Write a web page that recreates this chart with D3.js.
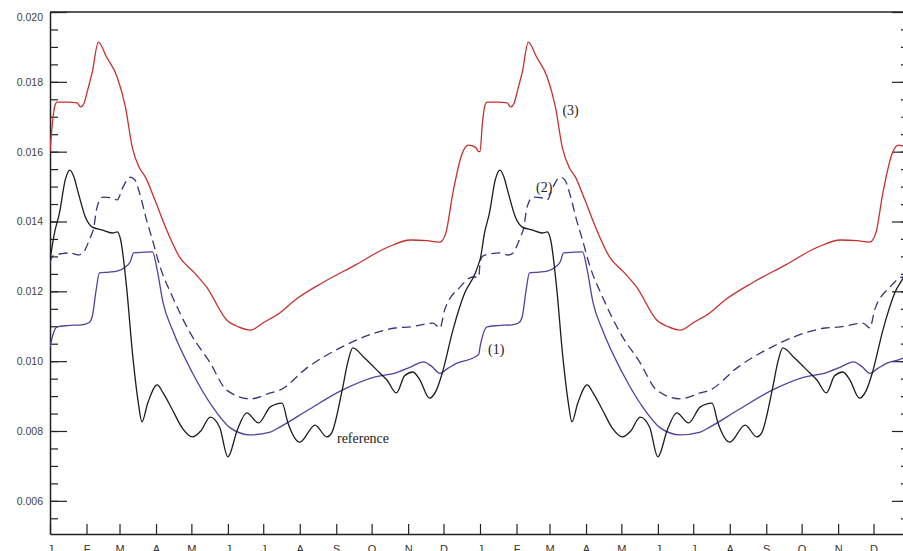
<!DOCTYPE html>
<html>
<head>
<meta charset="utf-8">
<script src="https://cdn.jsdelivr.net/npm/d3@7"></script>
<style>
  body { margin: 0; background: #fff; }
  svg { display: block; }
</style>
</head>
<body>
<div id="chart"></div>
<script>
//Chart data: [day of year, value], one year, drawn twice
var series3 = [[0,0.0160],[2,0.0168],[4,0.0173],[6,0.01742],[15,0.01742],[23,0.01740],[26,0.01728],
  [29,0.01740],[32,0.01777],[36,0.0183],[41,0.01914],[48,0.01871],[57,0.01814],[64,0.01728],[70,0.0161],
  [76,0.01553],[81,0.01527],[89,0.01462],[98,0.01384],[110,0.01298],[122,0.01255],[133,0.01212],
  [150,0.01118],[160,0.01098],[170,0.01089],[182,0.01112],[195,0.01138],[208,0.01175],[231,0.01224],
  [259,0.01275],[287,0.01327],[306,0.01347],[320,0.01345],[331,0.01341],[336,0.01367],[342,0.01482],
  [350,0.01596],[355,0.01619],[361,0.01613],[364,0.0160]];

var series2 = [[0,0.0128],[2,0.0130],[10,0.01308],[17,0.0131],[24,0.01304],[28,0.0131],[34,0.01353],
  [37,0.0138],[40,0.01442],[45,0.0147],[52,0.01468],[57,0.01462],[62,0.01499],[68,0.01527],[72,0.01519],
  [76,0.01482],[82,0.01404],[87,0.01347],[93,0.01275],[104,0.01184],[119,0.01081],[136,0.00995],
  [150,0.00917],[170,0.00892],[187,0.00909],[195,0.00917],[219,0.00983],[248,0.01041],[276,0.01081],
  [293,0.01095],[306,0.01098],[325,0.01109],[331,0.01095],[335,0.01147],[348,0.01212],[359,0.01241],
  [364,0.01241]];

var series1 = [[0,0.0104],[2,0.0107],[6,0.01098],[15,0.01102],[27,0.01104],[33,0.0111],[36,0.0113],
  [39,0.0120],[42,0.01253],[50,0.01255],[57,0.01258],[64,0.0127],[68,0.01284],[71,0.0131],[80,0.01312],
  [87,0.01313],[91,0.01261],[96,0.01167],[104,0.01089],[121,0.00966],[138,0.00869],[153,0.00809],
  [170,0.00789],[187,0.00797],[195,0.00811],[219,0.0086],[248,0.00917],[276,0.00955],[293,0.00966],
  [306,0.00983],[317,0.00998],[324,0.00985],[331,0.00965],[338,0.0098],[346,0.00995],[359,0.01009],
  [364,0.0102]];

var seriesRef = [[0,0.0129],[4,0.0137],[8,0.01424],[13,0.0152],[17,0.01547],[20,0.0153],[24,0.01482],
  [30,0.01413],[36,0.01384],[44,0.01376],[53,0.01367],[57,0.0137],[60,0.01347],[65,0.01212],[70,0.01023],
  [75,0.0088],[78,0.00826],[83,0.0088],[91,0.00932],[96,0.00909],[104,0.0086],[112,0.0081],[121,0.00783],
  [128,0.0080],[136,0.0084],[144,0.00811],[151,0.00726],[159,0.00803],[167,0.00852],[177,0.00823],
  [187,0.00869],[197,0.0088],[202,0.00823],[212,0.00768],[225,0.00817],[235,0.00783],[239,0.00794],
  [248,0.00917],[253,0.0100],[257,0.01038],[267,0.01009],[280,0.00966],[286,0.00946],[294,0.00909],
  [301,0.00958],[308,0.00969],[314,0.00946],[322,0.00894],[328,0.00917],[333,0.00966],[342,0.01089],
  [352,0.01195],[361,0.01252],[364,0.0128]];

var monthLabels = ["J","F","M","A","M","J","J","A","S","O","N","D"];
var monthStarts = [0,31,59,90,120,151,181,212,243,273,304,334];
var yTicks = [0.006,0.008,0.010,0.012,0.014,0.016,0.018,0.020];
var years = [0, 1];

//Annotations placed in data coordinates
var notes = [
  {text: "(3)", day: 435, value: 0.01705},
  {text: "(2)", day: 412.6, value: 0.01484},
  {text: "(1)", day: 371.8, value: 0.01021},
  {text: "reference", day: 243.6, value: 0.00766}
];

//Sizes
var width = 903, height = 551;
var plotLeft = 50, plotTop = 12, plotBottom = 534;
var yearPx = 430;
var plotRight = 909;
var dayMax = (plotRight - plotLeft) * 365 / yearPx;

var x = d3.scaleLinear().domain([0, dayMax]).range([plotLeft, plotRight]);
var y = d3.scaleLinear().domain([0.00505, 0.020]).range([plotBottom, plotTop]);

var svg = d3.select("#chart").append("svg")
  .attr("width", width)
  .attr("height", height);

svg.append("defs").append("clipPath").attr("id", "plot")
  .append("rect")
  .attr("x", plotLeft).attr("y", plotTop)
  .attr("width", plotRight - plotLeft).attr("height", plotBottom - plotTop);

//Y axis minor ticks, left and right
var minor = d3.range(0.0055, 0.02001, 0.0005);
svg.append("g")
  .attr("transform", "translate(" + plotLeft + ",0)")
  .call(d3.axisLeft(y).tickValues(minor).tickSize(-8).tickFormat(""))
  .call(g => g.select(".domain").remove());
svg.append("g")
  .attr("transform", "translate(" + plotRight + ",0)")
  .call(d3.axisRight(y).tickValues(minor).tickSize(-8).tickFormat(""))
  .call(g => g.select(".domain").remove());
svg.append("g")
  .attr("transform", "translate(" + plotRight + ",0)")
  .call(d3.axisRight(y).tickValues(yTicks).tickSize(-17).tickFormat(""))
  .call(g => g.select(".domain").remove());

//Y axis major ticks with labels
var yAxis = svg.append("g")
  .attr("transform", "translate(" + plotLeft + ",0)")
  .call(d3.axisLeft(y).tickValues(yTicks).tickSize(-17).tickSizeOuter(0)
    .tickPadding(7).tickFormat(d3.format(".3f")));
yAxis.selectAll("text")
  .attr("font-family", "'Liberation Sans', Arial, sans-serif")
  .attr("font-size", 10.5)
  .attr("fill", "#444")
  .attr("y", d => d >= 0.020 ? 5 : 0);

//X axis month ticks
var monthTicks = [];
years.forEach(function(k) {
  monthStarts.forEach(function(m, i) {
    monthTicks.push({day: m + 365 * k, label: monthLabels[i]});
  });
});
var xAxis = svg.append("g")
  .attr("transform", "translate(0," + plotBottom + ")")
  .call(d3.axisBottom(x).tickValues(monthTicks.map(d => d.day)).tickSize(-10).tickSizeOuter(0)
    .tickPadding(11).tickFormat((d, i) => monthTicks[i].label));
xAxis.selectAll("text")
  .attr("font-family", "'Liberation Sans', Arial, sans-serif")
  .attr("font-size", 11)
  .attr("fill", "#333");

svg.selectAll(".tick line").attr("stroke", "#222").attr("stroke-width", 1.2);
svg.selectAll(".domain").attr("stroke", "#222").attr("stroke-width", 1.5);

//Top border
svg.append("line")
  .attr("x1", plotLeft).attr("x2", plotRight)
  .attr("y1", plotTop).attr("y2", plotTop)
  .attr("stroke", "#222").attr("stroke-width", 1.3);

//Lines
var line = d3.line()
  .x(d => x(d[0]))
  .y(d => y(d[1]))
  .curve(d3.curveMonotoneX);

function twoYears(data) {
  return years.flatMap(k => data.map(p => [p[0] + 365 * k, p[1]]));
}

var lines = [
  {data: series3, color: "#c8302e", dash: null},
  {data: series1, color: "#4f42a0", dash: null},
  {data: series2, color: "#35357f", dash: "9,5"},
  {data: seriesRef, color: "#1c1c1c", dash: null}
];

svg.append("g")
  .attr("clip-path", "url(#plot)")
  .selectAll("path")
  .data(lines)
  .enter()
  .append("path")
  .attr("d", d => line(twoYears(d.data)))
  .attr("fill", "none")
  .attr("stroke", d => d.color)
  .attr("stroke-width", 1.3)
  .attr("stroke-dasharray", d => d.dash);

//Curve labels
svg.selectAll(null)
  .data(notes)
  .enter()
  .append("text")
  .attr("x", d => x(d.day))
  .attr("y", d => y(d.value))
  .attr("font-family", "'Liberation Serif', 'Times New Roman', serif")
  .attr("font-size", 14)
  .attr("fill", "#222")
  .text(d => d.text);
</script>
</body>
</html>
